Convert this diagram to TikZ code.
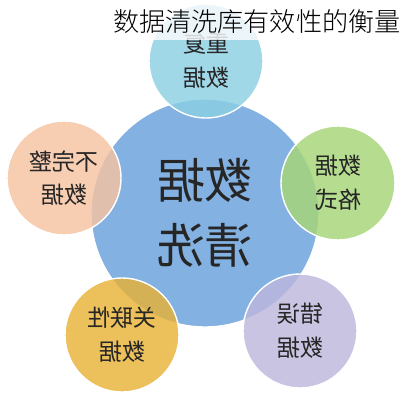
\documentclass[tikz,border=0pt]{standalone}
\usepackage{fontspec}
\newfontfamily\cjk{Noto Sans CJK SC}
\newfontfamily\cjklight{Noto Sans CJK SC Light}
\definecolor{ccore}{HTML}{82B1E2}
\definecolor{ctop}{HTML}{8BD0E3}
\definecolor{cleft}{HTML}{F6C3A2}
\definecolor{cright}{HTML}{A6D676}
\definecolor{clow}{HTML}{E8B236}
\definecolor{cerr}{HTML}{BDB7DC}
\definecolor{ink}{HTML}{262626}

\begin{document}
\begin{tikzpicture}[x=0.025cm, y=-0.025cm,
every node/.style={font=\cjk, align=center, inner sep=0pt, text=ink},
ball/.style={circle, draw=white, line width=1pt, minimum size=2.85cm,
    fill opacity=0.82, text opacity=1, xscale=-1,
    font=\cjk\fontsize{16.5}{24}\selectfont}
]
\useasboundingbox (0,0) rectangle (400,400);

% centre
\node[circle, draw=white, line width=1pt, fill=ccore, minimum size=5.7cm, xscale=-1,
    font=\cjk\fontsize{34}{46}\selectfont] (core) at (205,213) {数据\\清洗};

\foreach \n/\x/\y/\t in {
        top/206/61/{重复\\数据},
        left/64/178/{不完整\\数据},
        right/338/183/{数据\\格式},
        low/122/335/{关联性\\数据},
        err/300/331/{错误\\数据}%
    }
    \node[ball, fill=c\n] (\n) at (\x,\y) {\t};

% title
\fill[white, opacity=0.8] (108,0) rectangle (400,40);
\node[anchor=east, text=black, font=\cjklight\fontsize{18.6}{22}\selectfont] (title) at (401,22) {数据清洗库有效性的衡量};

\end{tikzpicture}
\end{document}
